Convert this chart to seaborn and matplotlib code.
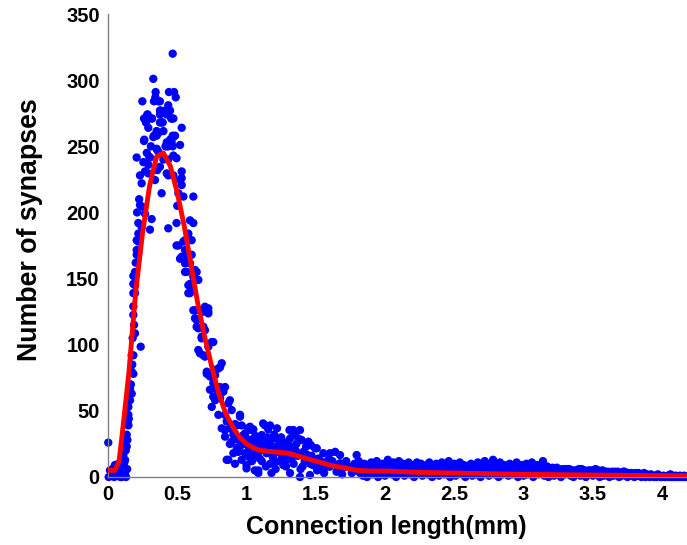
import numpy as np
import pandas as pd
import matplotlib
matplotlib.use("Agg")
import matplotlib.pyplot as plt
import seaborn as sns

# Smoothed profile (red curve)
fit_length = [0.01, 0.05, 0.08, 0.10, 0.15, 0.20, 0.25, 0.30, 0.35, 0.40,
              0.45, 0.50, 0.55, 0.60, 0.65, 0.70, 0.75, 0.80, 0.85, 0.90,
              0.95, 1.00, 1.05, 1.10, 1.20, 1.30, 1.40, 1.50, 1.60, 1.70,
              1.80, 1.90, 2.00, 2.25, 2.50, 2.75, 3.00, 3.50, 4.00, 4.20]
fit_count = [5, 5, 12, 30, 78, 140, 185, 220, 242, 245,
             235, 215, 190, 160, 130, 105, 83, 63, 48, 38,
             30, 25, 22, 20, 19, 18, 15, 12, 9, 7,
             5, 4.5, 4.5, 3.5, 3, 2.5, 2, 1.5, 1, 1]

# Synapse counts per connection: main peak
peak_length = [
    0.002, 0.005, 0.014, 0.02, 0.03, 0.038, 0.045, 0.05, 0.055, 0.06,
    0.065, 0.07, 0.074, 0.08, 0.087, 0.09, 0.095, 0.099, 0.105, 0.11,
    0.11, 0.115, 0.118, 0.123, 0.123, 0.123, 0.128, 0.13, 0.135, 0.135,
    0.138, 0.14, 0.145, 0.147, 0.147, 0.147, 0.15, 0.155, 0.159, 0.159,
    0.165, 0.171, 0.171, 0.171, 0.175, 0.178, 0.183, 0.183, 0.183, 0.183,
    0.183, 0.183, 0.183, 0.188, 0.195, 0.195, 0.195, 0.195, 0.20, 0.207,
    0.207, 0.207, 0.207, 0.21, 0.219, 0.219, 0.219, 0.219, 0.225, 0.231,
    0.231, 0.236, 0.243, 0.243, 0.248, 0.255, 0.255, 0.26, 0.26, 0.262,
    0.267, 0.267, 0.267, 0.274, 0.28, 0.284, 0.286, 0.291, 0.291, 0.291,
    0.298, 0.303, 0.303, 0.31, 0.315, 0.315, 0.318, 0.327, 0.327, 0.332,
    0.332, 0.339, 0.342, 0.344, 0.351, 0.351, 0.351, 0.352, 0.356, 0.363,
    0.363, 0.363, 0.375, 0.375, 0.375, 0.375, 0.375, 0.38, 0.387, 0.388,
    0.395, 0.40, 0.40, 0.412, 0.415, 0.424, 0.424, 0.424, 0.424, 0.424,
    0.435, 0.435, 0.435, 0.435, 0.435, 0.44, 0.443, 0.448, 0.448, 0.457,
    0.459, 0.459, 0.467, 0.467, 0.467, 0.472, 0.472, 0.472, 0.472, 0.477,
    0.484, 0.489, 0.495, 0.495, 0.495, 0.50, 0.508, 0.508, 0.52, 0.52,
    0.52, 0.532, 0.532, 0.532, 0.532, 0.532, 0.544, 0.544, 0.556, 0.556,
    0.556, 0.556, 0.568, 0.568, 0.58, 0.58, 0.58, 0.58, 0.592, 0.592,
    0.592, 0.592, 0.604, 0.604, 0.604, 0.616, 0.616, 0.616, 0.616, 0.628,
    0.628, 0.628, 0.64, 0.64, 0.64, 0.64, 0.652, 0.652, 0.652, 0.664,
    0.664, 0.676, 0.676, 0.688, 0.688, 0.688, 0.70, 0.70, 0.70, 0.70,
    0.713, 0.713, 0.724, 0.724, 0.724, 0.724, 0.736, 0.736, 0.749, 0.749,
    0.749, 0.76, 0.76, 0.76, 0.773, 0.773, 0.773, 0.785, 0.797, 0.797,
    0.809, 0.809, 0.809, 0.821, 0.821, 0.833, 0.845, 0.845, 0.845, 0.845,
    0.857, 0.857, 0.869, 0.869, 0.88, 0.88, 0.88, 0.893, 0.893, 0.905,
    0.905, 0.917, 0.917, 0.929, 0.93, 0.941, 0.941, 0.953, 0.953, 0.953,
    0.965, 0.965, 0.977, 0.98, 0.989, 0.99,
]
peak_count = [
    26, 0, 5, 1, 3, 6.5, 0, 9, 2, 4,
    1, 6, 10, 2, 5, 0, 3, 0, 2, 8,
    16.6, 1, 11, 13, 3, 25.5, 20, 0, 23, 32,
    6, 28, 40, 47, 53, 39, 44, 62, 58, 67,
    70, 63, 79.6, 92, 85, 105, 78, 92, 122.5, 129,
    139, 146, 152, 115, 108.6, 139, 145, 155, 162, 168,
    171.6, 179, 241.5, 200, 169, 178, 184, 192, 210, 205.6,
    228, 98.5, 189, 222, 284, 204, 238, 254, 271, 255,
    199, 231, 271, 268, 245, 274, 274, 229.5, 264, 236,
    242, 187, 241.5, 250, 195, 271, 271, 257, 301, 258,
    284, 224.5, 287, 291, 248, 258, 261.5, 248, 232, 246,
    260, 284, 234.5, 268, 274, 277, 284, 277, 214.5, 268,
    268, 261.5, 240, 277, 250, 229.5, 250, 253, 274, 275,
    188, 228, 240, 250, 281, 291, 277, 255, 277, 271,
    253, 271, 258, 250, 320, 228, 243, 257, 271, 291,
    258, 287, 192, 241, 175, 205, 175, 214.5, 165, 224.5,
    251, 166.5, 220.7, 226, 231, 264, 178, 212, 155, 161.5,
    171.6, 179, 155, 165, 139, 145, 166.5, 184, 139, 146,
    161.5, 194, 141, 168, 179, 126, 151.4, 192, 212, 120,
    126, 156.5, 113.6, 118.7, 149, 155, 96, 112.4, 149, 93.5,
    126, 104.8, 106, 92, 113.6, 125, 91, 111, 126, 128.7,
    78, 79.6, 98.5, 123.7, 125, 127.5, 66, 76, 53, 76,
    102, 60.7, 71, 102, 58, 77, 81, 66, 47, 82,
    59.5, 68, 83, 36.8, 86, 64.5, 30.5, 35.5, 47, 68,
    13, 42, 13, 55.7, 36.8, 58, 25, 26.7, 50.6, 32,
    18, 10, 40, 39, 22, 19, 28, 23, 45.6, 47,
    13, 39, 31.7, 25, 18, 33,
]

# Shoulder between 1 and 1.8 mm
shoulder_length = [
    1.00, 1.00, 1.001, 1.013, 1.013, 1.02, 1.025, 1.025, 1.025, 1.037,
    1.04, 1.049, 1.049, 1.049, 1.055, 1.06, 1.073, 1.08, 1.085, 1.085,
    1.09, 1.10, 1.11, 1.11, 1.12, 1.125, 1.134, 1.14, 1.145, 1.157,
    1.16, 1.17, 1.17, 1.175, 1.18, 1.19, 1.193, 1.20, 1.21, 1.218,
    1.22, 1.225, 1.24, 1.242, 1.25, 1.266, 1.27, 1.28, 1.29, 1.30,
    1.31, 1.314, 1.314, 1.32, 1.334, 1.338, 1.34, 1.35, 1.36, 1.37,
    1.386, 1.386, 1.39, 1.398, 1.41, 1.42, 1.43, 1.447, 1.458, 1.46,
    1.47, 1.48, 1.495, 1.507, 1.51, 1.52, 1.54, 1.555, 1.56, 1.58,
    1.60, 1.603, 1.62, 1.64, 1.65, 1.66, 1.675, 1.675, 1.69, 1.70,
    1.72, 1.747, 1.76, 1.78, 1.795,
    1.015, 1.035, 1.065, 1.095, 1.115, 1.15, 1.185, 1.205, 1.235, 1.255,
    1.285, 1.305, 1.325, 1.355, 1.375, 1.405, 1.435, 1.465, 1.53, 1.59,
]
shoulder_count = [
    6.5, 9, 29, 28, 36.8, 15, 20.4, 36, 38, 35.5,
    12, 20.4, 29, 36, 24, 5, 25.5, 16, 3, 5,
    30, 20, 31.7, 12, 40.5, 26, 39, 8, 18, 36,
    23, 10, 39, 28, 3, 15, 23, 32, 6, 29,
    36.8, 19, 12, 24, 30, 9, 20, 26, 13, 17,
    35.5, 3, 29, 22, 31.7, 35.5, 10, 33, 25, 16,
    0, 35.5, 6, 28, 19, 12, 23, 26.7, 1.5, 10,
    16, 9, 21.7, 21.7, 5, 14, 11.6, 18, 3, 8,
    7.8, 18, 12, 19, 4, 9, 10.4, 16.6, 2, 7,
    12, 7.8, 3, 10, 16.6,
    23, 17, 31, 14, 24, 30, 20, 11, 27, 16,
    8, 24, 14, 20, 29, 8, 17, 24, 8, 13,
]

# Long-range tail
tail_length = [
    1.80, 1.81, 1.82, 1.83, 1.84, 1.85, 1.86, 1.87, 1.88, 1.89,
    1.90, 1.91, 1.92, 1.93, 1.94, 1.95, 1.96, 1.97, 1.98, 1.99,
    2.00, 2.01, 2.02, 2.03, 2.04, 2.05, 2.06, 2.07, 2.08, 2.09,
    2.10, 2.11, 2.12, 2.13, 2.14, 2.15, 2.16, 2.17, 2.18, 2.19,
    2.20, 2.21, 2.22, 2.23, 2.24, 2.25, 2.26, 2.27, 2.28, 2.29,
    2.30, 2.31, 2.32, 2.33, 2.34, 2.35, 2.36, 2.37, 2.38, 2.39,
    2.40, 2.41, 2.42, 2.43, 2.44, 2.45, 2.46, 2.47, 2.48, 2.49,
    2.50, 2.51, 2.52, 2.53, 2.54, 2.55, 2.56, 2.57, 2.58, 2.59,
    2.60, 2.61, 2.62, 2.63, 2.64, 2.65, 2.66, 2.67, 2.68, 2.69,
    2.70, 2.71, 2.72, 2.73, 2.74, 2.75, 2.76, 2.77, 2.78, 2.79,
    2.80, 2.81, 2.82, 2.83, 2.84, 2.85, 2.86, 2.87, 2.88, 2.89,
    2.90, 2.91, 2.92, 2.93, 2.94, 2.95, 2.96, 2.97, 2.98, 2.99,
    3.00, 3.01, 3.02, 3.03, 3.04, 3.05, 3.06, 3.07, 3.08, 3.09,
    3.10, 3.11, 3.12, 3.13, 3.14, 3.15, 3.16, 3.17, 3.18, 3.19,
    3.20, 3.21, 3.22, 3.23, 3.24, 3.25, 3.26, 3.27, 3.28, 3.29,
    3.30, 3.31, 3.32, 3.33, 3.34, 3.35, 3.36, 3.37, 3.38, 3.39,
    3.40, 3.41, 3.42, 3.43, 3.44, 3.45, 3.46, 3.47, 3.48, 3.49,
    3.50, 3.51, 3.52, 3.53, 3.54, 3.55, 3.56, 3.57, 3.58, 3.59,
    3.60, 3.61, 3.62, 3.63, 3.64, 3.65, 3.66, 3.67, 3.68, 3.69,
    3.70, 3.71, 3.72, 3.73, 3.74, 3.75, 3.76, 3.77, 3.78, 3.79,
    3.80, 3.81, 3.82, 3.83, 3.84, 3.85, 3.86, 3.87, 3.88, 3.89,
    3.90, 3.91, 3.92, 3.93, 3.94, 3.95, 3.96, 3.97, 3.98, 3.99,
    4.00, 4.01, 4.02, 4.03, 4.04, 4.05, 4.06, 4.07, 4.08, 4.09,
    4.10, 4.11, 4.12, 4.13, 4.14, 4.15, 4.16, 4.17, 4.18,
]
tail_count = [
    5, 12, 3, 8, 1, 10, 6, 0, 9, 4,
    11, 2, 7, 5, 12, 0, 8, 3, 10, 6,
    1, 9, 13, 4, 7, 2, 11, 5, 0, 8,
    12, 3, 6, 10, 1, 7, 4, 11, 2, 9,
    5, 0, 8, 11, 3, 6, 10, 1, 7, 4,
    9, 2, 11, 5, 0, 8, 3, 10, 6, 1,
    7, 11, 4, 2, 9, 5, 12, 0, 6, 3,
    10, 1, 8, 4, 11, 6, 2, 9, 0, 5,
    7, 3, 10, 1, 6, 8, 2, 11, 4, 0,
    9, 5, 12, 3, 7, 1, 10, 6, 13, 2,
    4, 8, 0, 11, 5, 2, 9, 3, 7, 1,
    10, 6, 2, 8, 4, 11, 0, 7, 3, 9,
    1, 5, 10, 2, 8, 4, 11, 0, 6, 3,
    9, 2, 7, 5, 12, 1, 4, 8, 0, 6,
    3, 7, 1, 5, 7, 2, 6, 0, 4, 6,
    2, 6, 3, 6, 1, 5, 0, 5, 4, 2,
    6, 1, 6, 3, 5, 0, 4, 5, 2, 5,
    1, 4, 6, 2, 5, 0, 3, 5, 1, 4,
    2, 4, 0, 3, 4, 1, 4, 2, 4, 0,
    3, 1, 4, 4, 2, 0, 3, 1, 3, 2,
    0, 3, 1, 3, 2, 0, 1, 3, 0, 2,
    1, 0, 2, 1, 0, 1, 0, 2, 1, 0,
    0, 1, 0, 0, 1, 0, 2, 0, 1, 0,
    1, 0, 0, 1, 0, 0, 1, 0, 0,
]

x_ticks = [0, 0.5, 1, 1.5, 2, 2.5, 3, 3.5, 4]
x_tick_labels = ["0", "0.5", "1", "1.5", "2", "2.5", "3", "3.5", "4"]
y_ticks = [0, 50, 100, 150, 200, 250, 300, 350]

sns.set_theme(style="white")
plt.rcParams["font.family"] = ["Liberation Sans", "DejaVu Sans"]
plt.rcParams["font.weight"] = "bold"

points = pd.DataFrame({
    "length": peak_length + shoulder_length + tail_length,
    "count": peak_count + shoulder_count + tail_count,
})
profile = pd.DataFrame({"length": fit_length, "count": fit_count})

fig = plt.figure(figsize=(6.87, 5.45), dpi=100)
ax = fig.add_axes([108 / 687, 68 / 545, 579 / 687, 463 / 545])

sns.scatterplot(data=points, x="length", y="count", ax=ax, color="#0000ff",
                s=36, linewidth=0, edgecolor="none", clip_on=False, zorder=2)
sns.lineplot(data=profile, x="length", y="count", ax=ax, color="#ff0000",
             linewidth=3.5, zorder=3)

ax.set_xlim(0, 4.18)
ax.set_ylim(0, 350)
ax.set_xticks(x_ticks)
ax.set_xticklabels(x_tick_labels)
ax.set_yticks(y_ticks)

for side in ("top", "right"):
    ax.spines[side].set_visible(False)
for side in ("left", "bottom"):
    ax.spines[side].set_color("#808080")
    ax.spines[side].set_linewidth(1.0)

ax.tick_params(axis="both", direction="in", length=4, width=1.0,
               color="#808080", labelsize=14.5, labelcolor="black", pad=6)
for lab in ax.get_xticklabels() + ax.get_yticklabels():
    lab.set_fontweight("bold")

ax.set_xlabel("Connection length(mm)", fontsize=18, fontweight="bold", color="black")
ax.set_ylabel("Number of synapses", fontsize=19.3, fontweight="bold", color="black")
ax.xaxis.set_label_coords(0.480, -0.108)
ax.xaxis.label.set_va("center")
ax.yaxis.set_label_coords(-0.1347, 0.5335)
ax.yaxis.label.set_va("center")

fig.savefig("out.png", dpi=100)
